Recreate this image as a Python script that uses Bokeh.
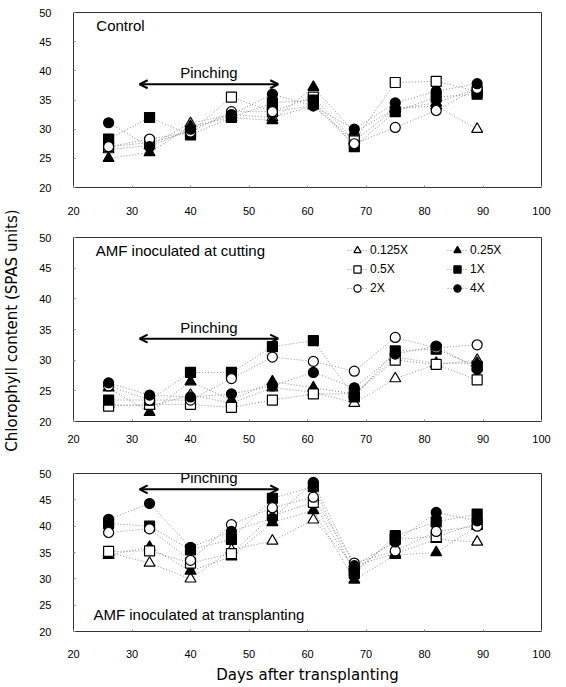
import math
from bokeh.plotting import figure
from bokeh.layouts import column, row
from bokeh.models import (Arrow, OpenHead, Label, Legend, LegendItem,
                          SingleIntervalTicker, Range1d)
from bokeh.embed import file_html
from bokeh.resources import INLINE

# ---------------- data ----------------
days = [26, 33, 40, 47, 54, 61, 68, 75, 82, 89]
series_names = ["0.125X", "0.25X", "0.5X", "1X", "2X", "4X"]

# Control
ctrl_0125 = [26.5, 27.2, 31.0, 32.5, 32.0, 34.0, 28.0, 33.5, 34.0, 30.0]
ctrl_025 = [25.0, 26.0, 30.5, 32.0, 31.5, 37.2, 29.5, 33.5, 34.5, 37.0]
ctrl_05 = [27.0, 27.7, 29.5, 35.5, 33.0, 35.5, 28.0, 38.0, 38.2, 36.5]
ctrl_1 = [28.3, 32.0, 29.0, 32.0, 34.5, 35.0, 27.0, 33.0, 35.5, 36.0]
ctrl_2 = [27.0, 28.3, 29.5, 33.0, 33.0, 34.0, 27.5, 30.3, 33.2, 37.0]
ctrl_4 = [31.1, 27.0, 30.0, 32.5, 36.0, 34.0, 30.0, 34.5, 36.5, 37.8]

# AMF inoculated at cutting
cut_0125 = [22.8, 22.5, 24.3, 23.0, 25.5, 24.8, 23.0, 27.0, 29.3, 30.0]
cut_025 = [25.5, 21.5, 26.5, 23.5, 26.5, 25.5, 24.5, 30.5, 29.5, 29.5]
cut_05 = [22.5, 22.8, 22.8, 22.3, 23.5, 24.5, 24.5, 30.0, 29.3, 26.8]
cut_1 = [23.5, 23.5, 28.0, 28.0, 32.2, 33.2, 24.0, 31.5, 31.8, 29.0]
cut_2 = [25.8, 23.5, 23.5, 27.0, 30.5, 29.8, 28.2, 33.7, 32.0, 32.5]
cut_4 = [26.3, 24.3, 24.0, 24.5, 25.8, 28.0, 25.5, 31.0, 32.3, 28.5]

# AMF inoculated at transplanting
tr_0125 = [35.0, 33.0, 30.0, 35.5, 37.2, 41.2, 32.5, 34.8, 37.5, 37.0]
tr_025 = [34.5, 36.0, 31.5, 34.2, 40.7, 43.0, 29.8, 34.5, 35.0, 40.0]
tr_05 = [35.2, 35.3, 33.0, 34.8, 42.0, 44.5, 31.5, 37.5, 38.0, 40.5]
tr_1 = [40.5, 40.0, 35.5, 37.5, 45.3, 47.5, 31.0, 38.2, 40.8, 42.3]
tr_2 = [38.8, 39.5, 33.5, 40.3, 43.5, 45.5, 33.0, 35.3, 39.0, 40.0]
tr_4 = [41.3, 44.3, 36.0, 39.0, 41.5, 48.3, 32.5, 37.0, 42.6, 41.0]

panel_titles = ["Control", "AMF inoculated at cutting",
                "AMF inoculated at transplanting"]
pinch_label = "Pinching"
pinch_start, pinch_end = 31.3, 55.0
x_title = "Days after transplanting"
y_title = "Chlorophyll content (SPAS units)"

# ---------------- styling ----------------
FONT = "Liberation Sans"
TITLE_FONT = "DejaVu Sans"
markers = [("triangle", "white", 11), ("triangle", "black", 11),
           ("square", "white", 10), ("square", "black", 10),
           ("circle", "white", 10), ("circle", "black", 10)]

TITLE_W = 22
PANEL_W = 543


def make_panel(series, height, top, bottom, title, title_pos,
               pinch_y, show_xtitle=False, label_standoff=14):
    p = figure(width=PANEL_W, height=height, output_backend="svg",
               toolbar_location=None, x_range=Range1d(20, 100),
               y_range=Range1d(20, 50), min_border_left=51,
               min_border_right=24, min_border_top=top,
               min_border_bottom=bottom)
    p.xgrid.visible = False
    p.ygrid.visible = False
    p.outline_line_color = "#333333"
    p.outline_line_width = 1
    p.background_fill_color = "white"
    p.border_fill_color = "white"
    for ax in (p.xaxis[0], p.yaxis[0]):
        ax.axis_line_color = None
        ax.major_tick_out = 0
        ax.major_tick_in = 2
        ax.major_tick_line_color = "#888888"
        ax.minor_tick_line_color = None
        ax.major_label_text_font = FONT
        ax.major_label_text_font_size = "11px"
        ax.major_label_text_color = "black"
    p.xaxis[0].ticker = SingleIntervalTicker(interval=10)
    p.yaxis[0].ticker = SingleIntervalTicker(interval=5)
    p.xaxis[0].major_label_standoff = label_standoff
    p.yaxis[0].major_label_standoff = 18
    if show_xtitle:
        p.xaxis[0].axis_label = x_title
        p.xaxis[0].axis_label_text_font = TITLE_FONT
        p.xaxis[0].axis_label_text_font_size = "15px"
        p.xaxis[0].axis_label_text_font_style = "normal"
        p.xaxis[0].axis_label_text_color = "black"
        p.xaxis[0].axis_label_standoff = 5

    items = []
    for name, vals, (mk, fc, sz) in zip(series_names, series, markers):
        lr = p.line(days, vals, line_color="#8c8c8c", line_width=1,
                    line_dash="1 2")
        sr = p.scatter(days, vals, marker=mk, size=sz, fill_color=fc,
                       line_color="black", line_width=1.2)
        items.append(LegendItem(label=name, renderers=[lr, sr]))

    # pinching arrow
    p.add_layout(Arrow(x_start=pinch_start, y_start=pinch_y,
                       x_end=pinch_end, y_end=pinch_y, line_width=2,
                       line_color="black",
                       start=OpenHead(size=8, line_width=2),
                       end=OpenHead(size=8, line_width=2)))
    p.add_layout(Label(x=(pinch_start + pinch_end) / 2, y=pinch_y,
                       y_offset=3, text=pinch_label, text_align="center",
                       text_baseline="bottom", text_font=FONT,
                       text_font_size="15px", text_color="black"))
    p.add_layout(Label(x=title_pos[0], y=title_pos[1], text=title,
                       text_align="left", text_baseline="middle",
                       text_font=FONT, text_font_size="15px",
                       text_color="black"))
    return p, items


p1, _ = make_panel([ctrl_0125, ctrl_025, ctrl_05, ctrl_1, ctrl_2, ctrl_4],
                   225, 12, 38, panel_titles[0], (23.9, 47.8), 37.7,
                   label_standoff=15)
p2, items2 = make_panel([cut_0125, cut_025, cut_05, cut_1, cut_2, cut_4],
                        230, 12, 34, panel_titles[1], (23.8, 47.9), 33.5,
                        label_standoff=9)
p3, _ = make_panel([tr_0125, tr_025, tr_05, tr_1, tr_2, tr_4],
                   231, 18, 52, panel_titles[2], (23.4, 23.2), 47.0,
                   show_xtitle=True, label_standoff=14)

# legend in panel 2: two columns
col_a = [items2[0], items2[2], items2[4]]
col_b = [items2[1], items2[3], items2[5]]
for its, xloc in ((col_a, 274), (col_b, 374)):
    lg = Legend(items=its, location=(xloc, 124), orientation="vertical",
                glyph_width=20, glyph_height=18, label_height=18,
                label_standoff=3, spacing=1, padding=0, margin=0,
                border_line_color=None, background_fill_alpha=0,
                label_text_font=FONT, label_text_font_size="12px",
                label_text_color="black")
    p2.add_layout(lg)

# shared y-axis title in a narrow strip
total_h = 225 + 230 + 231
ty = figure(width=TITLE_W, height=total_h, output_backend="svg",
            toolbar_location=None, x_axis_type=None, y_axis_type=None,
            x_range=Range1d(0, 1), y_range=Range1d(0, total_h),
            min_border=0)
ty.outline_line_color = None
ty.xgrid.visible = False
ty.ygrid.visible = False
ty.add_layout(Label(x=0.5, y=total_h - 330, text=y_title, angle=math.pi / 2,
                    text_align="center", text_baseline="middle",
                    text_font=TITLE_FONT, text_font_size="15px",
                    text_color="black"))

layout = row(ty, column(p1, p2, p3, spacing=0), spacing=0)
open("out.html", "w").write(file_html(layout, INLINE))
